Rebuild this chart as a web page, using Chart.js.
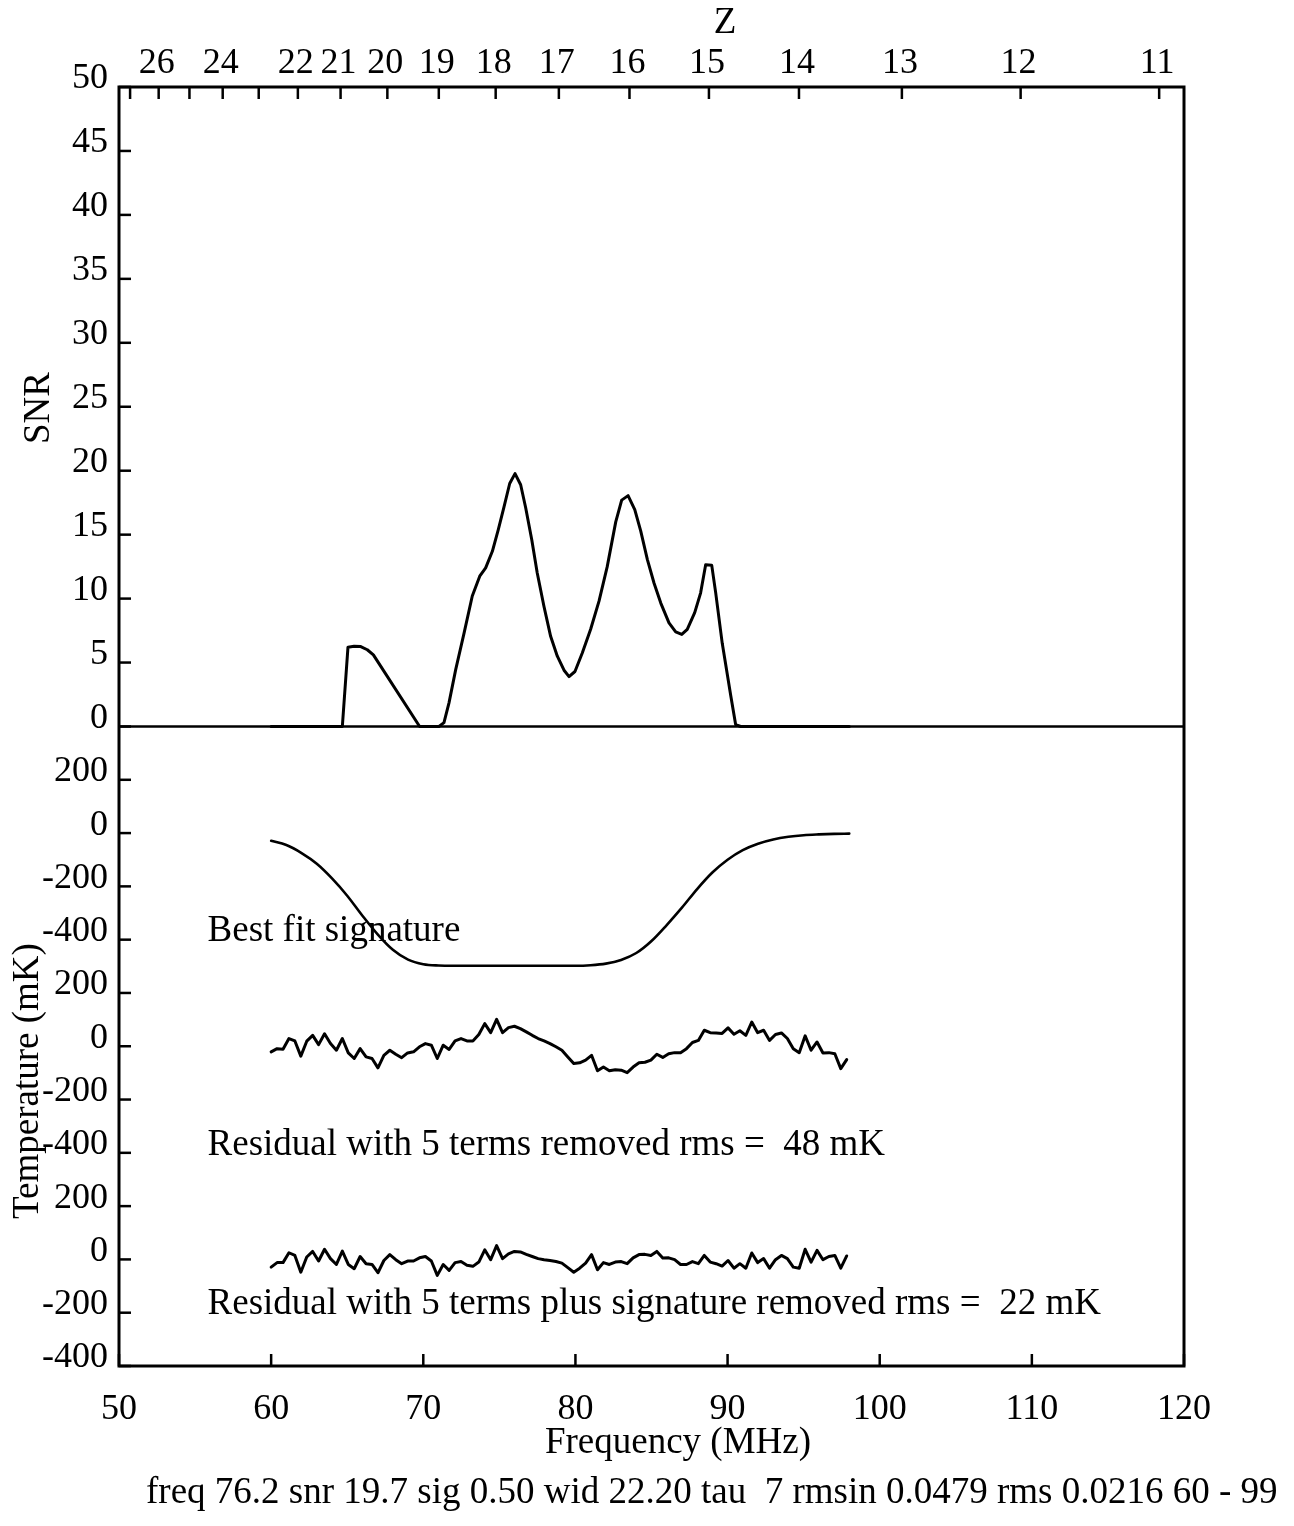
<!DOCTYPE html>
<html><head><meta charset="utf-8">
<script src="https://cdn.jsdelivr.net/npm/chart.js@4/dist/chart.umd.min.js"></script>
<style>html,body{margin:0;padding:0;background:#fff;}canvas{display:block;}</style>
</head><body>
<canvas id="c" width="1294" height="1526"></canvas>
<script>
// ---- data ----
const snrFreq = [60.0, 64.68, 65.05, 65.45, 65.89, 66.32, 66.72, 69.76, 71.03, 71.36, 71.69, 72.13, 72.68, 73.22, 73.71, 74.10, 74.54, 74.93, 75.31, 75.68, 76.03, 76.40, 76.73, 77.13, 77.49, 77.93, 78.37, 78.81, 79.25, 79.58, 79.97, 80.45, 81.00, 81.55, 82.09, 82.65, 83.04, 83.46, 83.90, 84.29, 84.73, 85.17, 85.61, 86.15, 86.59, 86.99, 87.35, 87.84, 88.23, 88.56, 88.96, 89.22, 89.65, 90.21, 90.53, 90.86, 98.0];
const snrValues = [0, 0, 6.2, 6.27, 6.25, 6.0, 5.6, 0, 0, 0.3, 1.85, 4.45, 7.3, 10.2, 11.75, 12.4, 13.7, 15.4, 17.2, 19.0, 19.77, 18.9, 17.1, 14.6, 12.0, 9.4, 7.05, 5.5, 4.4, 3.9, 4.3, 5.75, 7.6, 9.8, 12.5, 16.0, 17.7, 18.05, 16.95, 15.3, 13.05, 11.2, 9.65, 8.1, 7.4, 7.2, 7.6, 8.9, 10.45, 12.65, 12.6, 10.45, 6.5, 2.4, 0.15, 0, 0];

const sigFreq = [60, 61, 62, 63, 64, 65, 66, 67, 68, 69, 70, 71, 72, 73, 74, 75, 76, 77, 78, 79, 80, 81, 82, 83, 84, 85, 86, 87, 88, 89, 90, 91, 92, 93, 94, 95, 96, 97, 98];
const sigTemp = [-29, -45, -75, -115, -170, -235, -310, -380, -438, -475, -492, -497, -498, -498, -498, -498, -498, -498, -498, -498, -498, -496, -490, -476, -450, -405, -345, -280, -210, -148, -100, -64, -40, -24, -14, -8, -5, -3, -2];

const residFreq = [60.00, 60.39, 60.78, 61.17, 61.56, 61.95, 62.34, 62.73, 63.12, 63.51, 63.90, 64.29, 64.68, 65.07, 65.46, 65.85, 66.24, 66.63, 67.02, 67.41, 67.80, 68.19, 68.58, 68.97, 69.36, 69.75, 70.14, 70.53, 70.92, 71.31, 71.70, 72.09, 72.48, 72.87, 73.26, 73.65, 74.04, 74.43, 74.82, 75.21, 75.60, 75.99, 76.38, 76.77, 77.16, 77.55, 77.94, 78.33, 78.72, 79.11, 79.50, 79.89, 80.28, 80.67, 81.06, 81.45, 81.84, 82.23, 82.62, 83.01, 83.40, 83.79, 84.18, 84.57, 84.96, 85.35, 85.74, 86.13, 86.52, 86.91, 87.30, 87.69, 88.08, 88.47, 88.86, 89.25, 89.64, 90.03, 90.42, 90.81, 91.20, 91.59, 91.98, 92.37, 92.76, 93.15, 93.54, 93.93, 94.32, 94.71, 95.10, 95.49, 95.88, 96.27, 96.66, 97.05, 97.44, 97.83];
const resid5Terms = [-21, -9, -11, 29, 20, -37, 19, 41, 6, 47, 10, -15, 29, -25, -46, -9, -40, -46, -81, -34, -15, -30, -43, -25, -21, -2, 10, 4, -46, 4, -12, 20, 29, 20, 20, 44, 85, 51, 101, 51, 70, 75, 66, 54, 41, 29, 20, 10, -2,
  -15, -40, -65, -62, -52, -34, -92, -78, -92, -88, -90, -99, -78, -62, -60, -52, -30, -42, -28, -24, -24, -9, 14, 22, 60, 51, 50, 48, 69, 45, 58, 41, 91, 51, 60, 22, 44, 50, 29, -9, -24, 39, -15, 16, -25, -24, -28, -84, -50];
const resid5TermsSig = [-29, -12, -12, 25, 15, -48, 9, 30, -6, 38, 3, -19, 31, -19, -35, 11, -16, -19, -50, -4, 18, -1, -16, -6, -6, 6, 11, -6, -60, -19, -41, -12, -8, -22, -26, -10, 36, -1, 52, 3, 21, 30, 28, 19, 11, 3, -1, -4, -8,
  -14, -31, -48, -33, -14, 18, -39, -12, -19, -10, -8, -16, 6, 18, 19, 15, 30, 5, 6, -1, -19, -19, -8, -16, 15, -10, -16, -25, -4, -33, -16, -33, 24, -12, 3, -33, -1, 15, 3, -29, -33, 38, -10, 34, -1, 11, 15, -33, 13];

const freqTicks = [50, 60, 70, 80, 90, 100, 110, 120];
const snrTicks = [0, 5, 10, 15, 20, 25, 30, 35, 40, 45, 50];
const tempTicks = [-400, -200, 0, 200];
const zTicks = [27, 26, 25, 24, 23, 22, 21, 20, 19, 18, 17, 16, 15, 14, 13, 12, 11];
const zLabeled = [26, 24, 22, 21, 20, 19, 18, 17, 16, 15, 14, 13, 12, 11];
const HI_REST_MHZ = 1420.4;

const annotations = [
  "Best fit signature",
  "Residual with 5 terms removed rms =  48 mK",
  "Residual with 5 terms plus signature removed rms =  22 mK"
];
const footerText = "freq 76.2 snr 19.7 sig 0.50 wid 22.20 tau  7 rmsin 0.0479 rms 0.0216 60 - 99";

// ---- chart ----
const FAMILY = '"Liberation Serif", "Times New Roman", serif';
const tickFont = {family: FAMILY, size: 36};
const toPts = (xs, ys) => xs.map((x, i) => ({x: x, y: ys[i]}));
const lineDs = (data, axis, extra) => Object.assign({
  data: data, yAxisID: axis, xAxisID: 'x', borderColor: '#000', borderWidth: 3,
  pointRadius: 0, fill: false, tension: 0, borderJoinStyle: 'round', borderCapStyle: 'round', clip: false
}, extra || {});

const setTicks = arr => (s => { s.ticks = arr.map(v => ({value: v})); });
const yBase = (weight, stackWeight, min, max, ticks) => ({
  type: 'linear', position: 'left', stack: 'v', stackWeight: stackWeight, weight: weight,
  min: min, max: max, afterBuildTicks: setTicks(ticks),
  grid: {display: false}, border: {display: false},
  ticks: {font: tickFont, color: '#000', padding: 3, labelOffset: -8, autoSkip: false, callback: v => String(v)},
  afterFit: s => { s.width = 119; }
});

const framePlugin = {
  id: 'frame',
  afterDraw(chart) {
    const ctx = chart.ctx, a = chart.chartArea, s = chart.scales;
    ctx.save();
    ctx.strokeStyle = '#000';
    const line = (x1, y1, x2, y2) => { ctx.beginPath(); ctx.moveTo(x1, y1); ctx.lineTo(x2, y2); ctx.stroke(); };
    // frame
    ctx.lineWidth = 3;
    ctx.strokeRect(a.left, a.top, a.right - a.left, a.bottom - a.top);
    // divider between panels
    ctx.lineWidth = 2.5;
    const yDiv = s.ySNR.getPixelForValue(0);
    line(a.left, yDiv, a.right, yDiv);
    // inward tick marks
    ctx.lineWidth = 2.5;
    snrTicks.forEach(v => { const y = s.ySNR.getPixelForValue(v); line(a.left, y, a.left + 12, y); });
    ['yA', 'yB', 'yC'].forEach(id => tempTicks.forEach(v => { const y = s[id].getPixelForValue(v); line(a.left, y, a.left + 12, y); }));
    freqTicks.forEach(v => { const x = s.x.getPixelForValue(v); line(x, a.bottom, x, a.bottom - 12); });
    zTicks.forEach(z => { const x = s.x2.getPixelForValue(HI_REST_MHZ / (1 + z)); line(x, a.top, x, a.top + 12); });
    // texts
    ctx.fillStyle = '#000';
    ctx.font = '37px ' + FAMILY;
    ctx.textBaseline = 'middle';
    ctx.textAlign = 'center';
    ctx.fillText('Z', 725, 23);
    ctx.fillText('Frequency (MHz)', 678, 1443);
    ctx.save(); ctx.translate(39, 408); ctx.rotate(-Math.PI / 2); ctx.fillText('SNR', 0, 0); ctx.restore();
    ctx.save(); ctx.translate(28, 1081); ctx.rotate(-Math.PI / 2); ctx.fillText('Temperature (mK)', 0, 0); ctx.restore();
    ctx.textAlign = 'left';
    ctx.textBaseline = 'alphabetic';
    const ax = s.x.getPixelForValue(55.82);
    ctx.fillText(annotations[0], ax, 941);
    ctx.fillText(annotations[1], ax, 1155);
    ctx.fillText(annotations[2], ax, 1314);
    ctx.fillText(footerText, 146, 1503);
    ctx.restore();
  }
};

new Chart(document.getElementById('c'), {
  type: 'line',
  data: {
    datasets: [
      lineDs(toPts(snrFreq, snrValues), 'ySNR'),
      lineDs(toPts(sigFreq, sigTemp), 'yA', {cubicInterpolationMode: 'monotone', borderWidth: 2.6}),
      lineDs(toPts(residFreq, resid5Terms), 'yB'),
      lineDs(toPts(residFreq, resid5TermsSig), 'yC')
    ]
  },
  options: {
    responsive: false, animation: false, devicePixelRatio: 1,
    layout: {padding: {left: 0, top: 0, right: 110, bottom: 0}},
    plugins: {legend: {display: false}, tooltip: {enabled: false}, title: {display: false}},
    scales: {
      x: {
        type: 'linear', position: 'bottom', min: 50, max: 120,
        afterBuildTicks: setTicks(freqTicks),
        grid: {display: false}, border: {display: false},
        ticks: {font: tickFont, color: '#000', padding: 14, maxRotation: 0, autoSkip: false, callback: v => String(v)},
        afterFit: s => { s.height = 160; }
      },
      x2: {
        type: 'linear', position: 'top', min: 50, max: 120,
        afterBuildTicks: s => { s.ticks = zTicks.map(z => ({value: HI_REST_MHZ / (1 + z)})); },
        grid: {display: false}, border: {display: false},
        ticks: {font: tickFont, color: '#000', padding: -6, maxRotation: 0, autoSkip: false, labelOffset: -2,
          callback: (v, i) => zLabeled.includes(zTicks[i]) ? String(zTicks[i]) : ''},
        afterFit: s => { s.height = 87; }
      },
      ySNR: yBase(4, 3, 0, 50, snrTicks),
      yA: yBase(3, 1, -400, 400, tempTicks),
      yB: yBase(2, 1, -400, 400, tempTicks),
      yC: yBase(1, 1, -400, 400, tempTicks)
    }
  },
  plugins: [framePlugin]
});
</script>
</body></html>
